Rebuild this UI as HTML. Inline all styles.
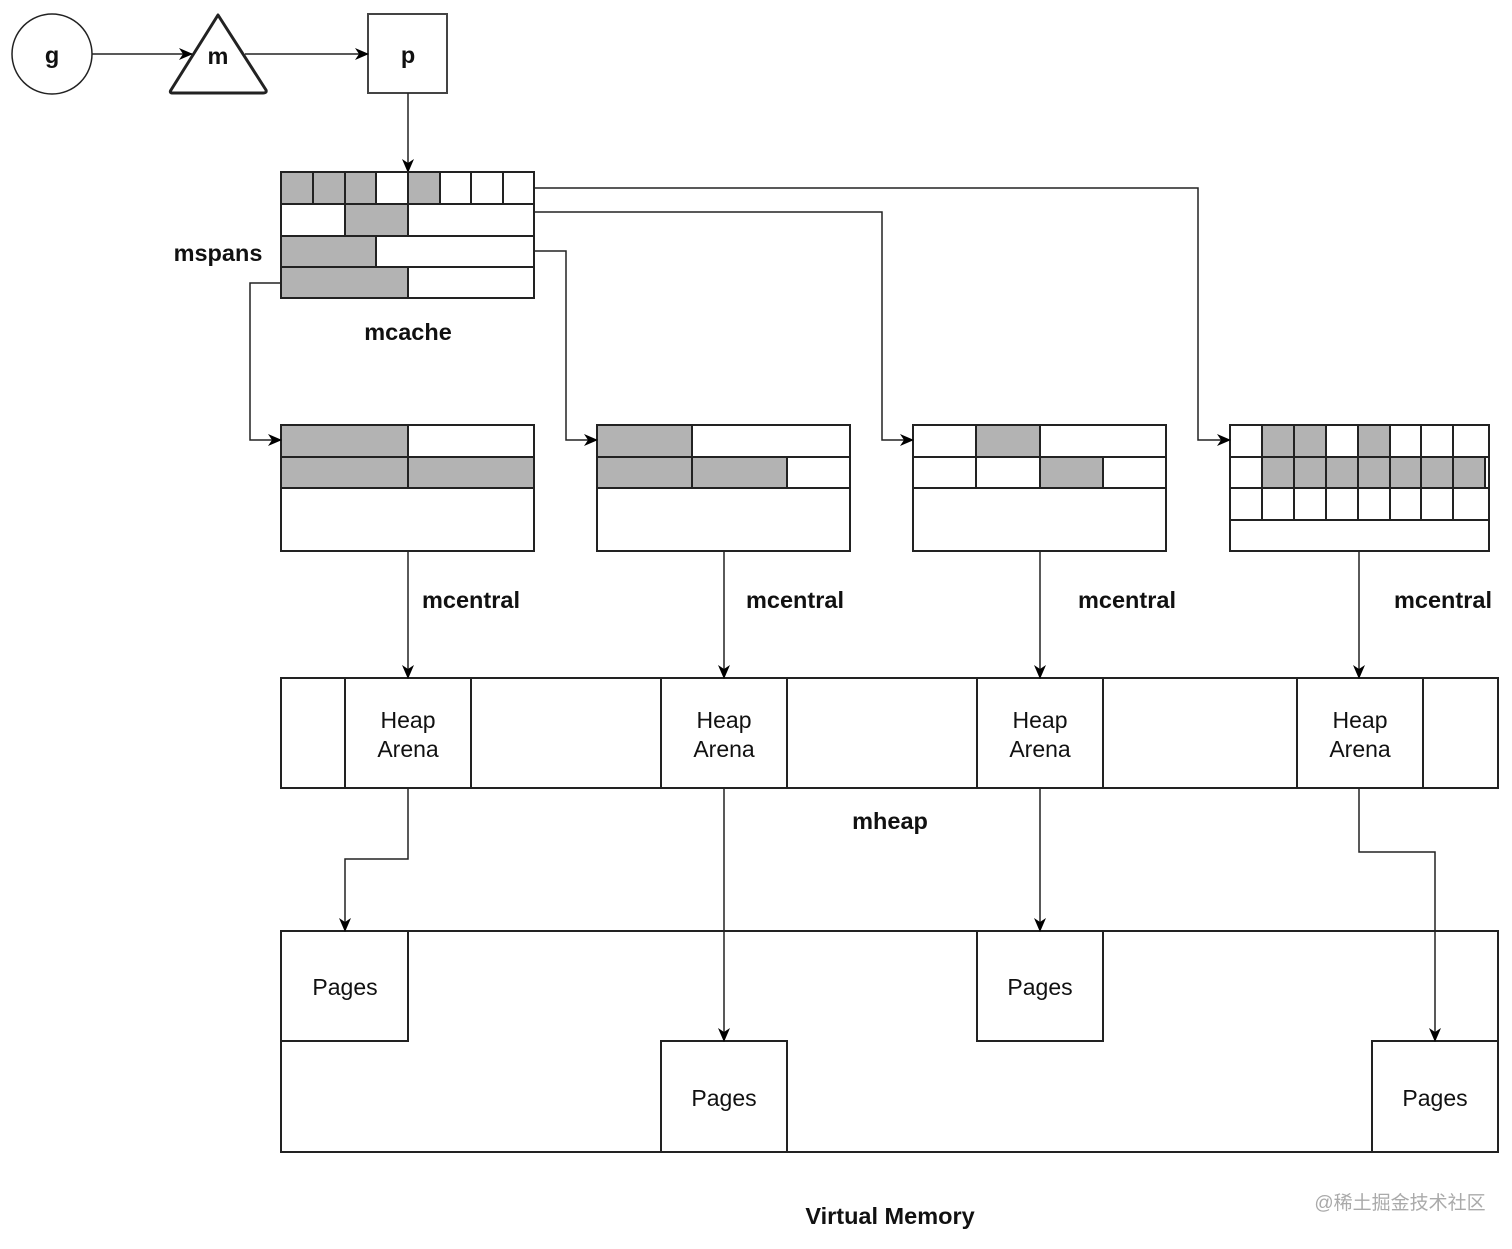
<!DOCTYPE html>
<html><head><meta charset="utf-8"><style>html,body{margin:0;padding:0;background:#fff}</style></head><body>
<svg width="1512" height="1244" viewBox="0 0 1512 1244" xmlns="http://www.w3.org/2000/svg" font-family="Liberation Sans, Noto Sans CJK SC, sans-serif">
<defs><marker id="a" markerWidth="14" markerHeight="12" refX="13" refY="6" orient="auto" markerUnits="userSpaceOnUse"><path d="M0,0 L14,6 L0,12 L4,6 Z" fill="#000"/></marker></defs>
<rect width="1512" height="1244" fill="#fff"/>
<g stroke="#222" stroke-width="2" fill="none">
<circle cx="52" cy="54" r="40" stroke-width="1.5"/>
<path d="M218,15 L266,90 Q267,93 263,93 L173,93 Q169,93 171,90 Z" stroke-width="3" stroke-linejoin="round"/>
<rect x="368" y="14" width="79" height="79" stroke="#444"/>
<line x1="92" y1="54" x2="192" y2="54" stroke-width="1.5" marker-end="url(#a)"/>
<line x1="245" y1="54" x2="368" y2="54" stroke-width="1.5" marker-end="url(#a)"/>
<line x1="408" y1="93" x2="408" y2="172" stroke-width="1.5" marker-end="url(#a)"/>
</g>
<g stroke="#222" stroke-width="2">
<g fill="#b3b3b3"><rect x="281" y="172" width="32" height="32"/><rect x="313" y="172" width="32" height="32"/><rect x="345" y="172" width="31" height="32"/><rect x="408" y="172" width="32" height="32"/>
<rect x="345" y="204" width="63" height="32"/><rect x="281" y="236" width="95" height="31"/><rect x="281" y="267" width="127" height="31"/></g>
<g fill="none"><rect x="281" y="172" width="253" height="126"/><line x1="281" y1="204" x2="534" y2="204"/><line x1="281" y1="236" x2="534" y2="236"/><line x1="281" y1="267" x2="534" y2="267"/>
<path d="M376,172V204M440,172V204M471,172V204M503,172V204"/></g>
<g fill="#b3b3b3"><rect x="281" y="425" width="127" height="32"/><rect x="281" y="457" width="127" height="31"/><rect x="408" y="457" width="126" height="31"/></g>
<rect x="281" y="425" width="253" height="126" fill="none"/><path d="M281,457H534M281,488H534" fill="none"/>
<g fill="#b3b3b3"><rect x="597" y="425" width="95" height="32"/><rect x="597" y="457" width="95" height="31"/><rect x="692" y="457" width="95" height="31"/></g>
<rect x="597" y="425" width="253" height="126" fill="none"/><path d="M597,457H850M597,488H850" fill="none"/>
<g fill="#b3b3b3"><rect x="976" y="425" width="64" height="32"/><rect x="1040" y="457" width="63" height="31"/></g>
<rect x="913" y="425" width="253" height="126" fill="none"/><path d="M913,457H1166M913,488H1166M976,457V488M1103,457V488" fill="none"/>
<g fill="#b3b3b3"><rect x="1262" y="425" width="32" height="32"/><rect x="1294" y="425" width="32" height="32"/><rect x="1358" y="425" width="32" height="32"/>
<rect x="1262" y="457" width="223" height="31"/></g>
<rect x="1230" y="425" width="259" height="126" fill="none"/>
<path d="M1230,457H1489M1230,488H1489M1230,520H1489M1262,425V520M1294,425V520M1326,425V520M1358,425V520M1390,425V520M1421,425V520M1453,425V520M1485,457V488" fill="none"/>
<rect x="281" y="678" width="1217" height="110" fill="none"/>
<path d="M345,678V788M471,678V788M661,678V788M787,678V788M977,678V788M1103,678V788M1297,678V788M1423,678V788" fill="none"/>
<rect x="281" y="931" width="1217" height="221" fill="none"/>
<rect x="281" y="931" width="127" height="110" fill="none"/><rect x="661" y="1041" width="126" height="111" fill="none"/>
<rect x="977" y="931" width="126" height="110" fill="none"/><rect x="1372" y="1041" width="126" height="111" fill="none"/>
</g>
<g stroke="#222" stroke-width="1.5" fill="none" marker-end="url(#a)">
<path d="M534,188H1198V440H1230"/><path d="M534,212H882V440H913"/><path d="M534,251H566V440H597"/><path d="M281,283H250V440H281"/>
<path d="M408,551V678"/><path d="M724,551V678"/><path d="M1040,551V678"/><path d="M1359,551V678"/>
<path d="M408,788V859H345V931"/><path d="M724,788V1041"/><path d="M1040,788V931"/><path d="M1359,788V852H1435V1041"/>
</g>
<g font-weight="bold" font-size="23.5" fill="#111" text-anchor="middle">
<text x="52" y="63">g</text><text x="218" y="64">m</text><text x="408" y="63">p</text>
<text x="218" y="261">mspans</text><text x="408" y="340">mcache</text>
<text x="471" y="608">mcentral</text><text x="795" y="608">mcentral</text><text x="1127" y="608">mcentral</text><text x="1443" y="608">mcentral</text>
<text x="890" y="829">mheap</text><text x="890" y="1224">Virtual Memory</text>
</g>
<g font-size="23" fill="#111" text-anchor="middle">
<text x="408" y="728">Heap</text><text x="408" y="757">Arena</text>
<text x="724" y="728">Heap</text><text x="724" y="757">Arena</text>
<text x="1040" y="728">Heap</text><text x="1040" y="757">Arena</text>
<text x="1360" y="728">Heap</text><text x="1360" y="757">Arena</text>
<text x="345" y="995">Pages</text><text x="724" y="1106">Pages</text><text x="1040" y="995">Pages</text><text x="1435" y="1106">Pages</text>
</g>
<text x="1400" y="1209" font-size="19" fill="#aaa" text-anchor="middle">@稀土掘金技术社区</text>
</svg>
</body></html>
